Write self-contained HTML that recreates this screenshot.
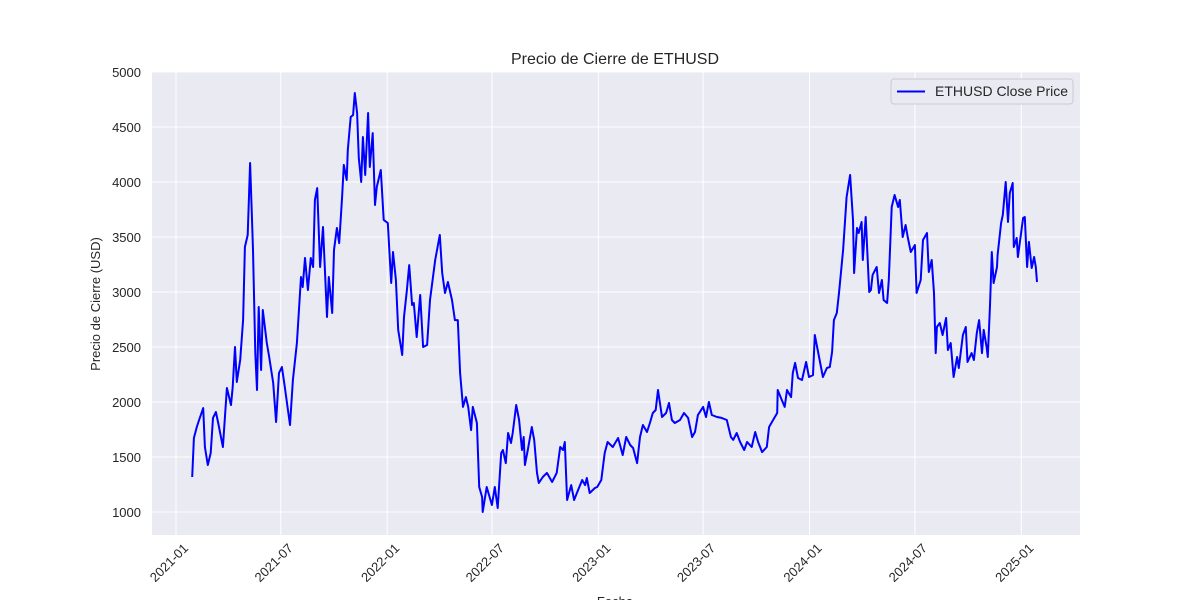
<!DOCTYPE html>
<html><head><meta charset="utf-8"><style>
body{margin:0;background:#fff;}
svg text{font-family:"Liberation Sans",Arial,sans-serif;fill:#262626;}
</style></head><body>
<svg id="chart" width="1200" height="600">
<rect x="152" y="72" width="928" height="463" fill="#eaeaf2"/>
<g id="grid"></g>
<g id="xticks"></g><g id="yticks"></g>
<path id="line" fill="none" stroke="#0000ff" stroke-width="2" stroke-linejoin="round"/>
<text x="615" y="64" text-anchor="middle" font-size="16">Precio de Cierre de ETHUSD</text>
<text transform="translate(100,304) rotate(-90)" text-anchor="middle" font-size="13">Precio de Cierre (USD)</text>
<text x="615" y="606" text-anchor="middle" font-size="13">Fecha</text>
<g>
<rect x="891" y="79" width="182" height="25" rx="3" fill="#eaeaf2" stroke="#cccccc"/>
<line x1="897" y1="91.5" x2="925" y2="91.5" stroke="#0000ff" stroke-width="2"/>
<text x="935" y="96" font-size="14">ETHUSD Close Price</text>
</g>
</svg>
<script>
const days=[28,31,36,40,47,50,55,60,64,69,73,81,88,95,98,102,105,111,116,119,124,128,131,133,137,140,143,147,150,157,161,168,173,178,183,188,197,202,209,216,219,223,228,233,237,240,244,249,254,261,264,270,273,278,282,287,290,295,297,302,306,309,313,316,320,323,327,332,335,340,344,347,354,359,366,372,375,380,384,391,394,399,403,408,411,416,422,427,434,439,448,456,460,465,470,477,482,487,491,496,501,505,510,513,520,524,529,530,537,546,551,556,562,565,570,574,579,582,588,593,598,601,603,608,615,619,624,627,634,641,650,658,664,669,672,676,683,688,695,702,707,710,715,724,728,735,741,746,755,764,772,778,785,790,797,802,807,814,819,824,829,833,840,847,852,857,862,871,878,885,892,897,902,911,916,921,926,935,943,952,959,963,969,975,982,987,995,1001,1006,1013,1021,1025,1032,1039,1040,1047,1052,1056,1063,1066,1070,1075,1082,1089,1094,1101,1104,1109,1118,1125,1130,1134,1137,1142,1146,1153,1156,1159,1165,1170,1172,1177,1180,1185,1187,1192,1198,1201,1204,1211,1215,1220,1223,1229,1232,1237,1242,1248,1251,1256,1261,1265,1270,1277,1280,1287,1291,1298,1301,1306,1310,1313,1315,1320,1325,1331,1334,1339,1344,1350,1353,1360,1365,1368,1375,1379,1384,1388,1393,1396,1401,1403,1407,1410,1413,1419,1420,1426,1429,1434,1438,1441,1446,1448,1453,1455,1464,1467,1471,1474,1479,1483,1486,1488];
const prices=[1318,1673,1773,1836,1945,1591,1427,1536,1855,1909,1809,1591,2127,1973,2136,2500,2182,2382,2745,3409,3518,4173,3718,3382,2445,2109,2864,2291,2836,2536,2409,2173,1818,2264,2318,2136,1791,2200,2536,3136,3045,3309,3018,3309,3227,3836,3945,3227,3591,2773,3136,2809,3382,3582,3445,3864,4155,4018,4291,4591,4609,4809,4627,4218,4000,4409,4064,4627,4136,4445,3791,3955,4109,3655,3627,3082,3364,3109,2655,2427,2773,3018,3245,2882,2900,2591,2973,2500,2518,2927,3291,3518,3173,2991,3091,2927,2745,2745,2264,1955,2045,1955,1745,1955,1809,1227,1136,1000,1227,1064,1227,1036,1536,1564,1445,1718,1627,1718,1973,1836,1564,1682,1427,1564,1773,1655,1355,1264,1318,1355,1273,1355,1591,1564,1636,1109,1245,1109,1200,1291,1245,1309,1173,1218,1227,1291,1536,1636,1591,1673,1518,1682,1609,1582,1445,1682,1791,1727,1809,1900,1927,2109,1864,1900,1991,1836,1809,1836,1900,1855,1682,1727,1882,1955,1864,2000,1882,1864,1855,1836,1682,1655,1718,1636,1564,1636,1591,1727,1636,1545,1591,1773,1836,1900,2109,2018,1955,2109,2045,2264,2355,2218,2200,2364,2227,2245,2609,2473,2227,2309,2318,2455,2745,2809,3000,3382,3627,3864,4064,3655,3173,3582,3536,3636,3291,3682,3000,3018,3155,3227,2991,3109,2927,2900,3109,3773,3882,3773,3836,3500,3609,3491,3364,3427,2991,3109,3473,3536,3182,3291,2991,2445,2682,2718,2609,2764,2473,2536,2227,2409,2309,2609,2682,2364,2445,2382,2627,2745,2445,2655,2500,2409,2900,3364,3082,3227,3336,3627,3700,4000,3636,3900,3991,3409,3491,3318,3673,3682,3227,3455,3218,3318,3227,3091];
const xTickDays=[0,181,365,546,730,911,1095,1277,1461];
const xTickLabels=["2021-01","2021-07","2022-01","2022-07","2023-01","2023-07","2024-01","2024-07","2025-01"];
const yTicks=[1000,1500,2000,2500,3000,3500,4000,4500,5000];

const NS="http://www.w3.org/2000/svg";
const X=d=>176+d*0.5786;
const Y=v=>512-(v-1000)*0.11;
const grid=document.getElementById('grid'),xt=document.getElementById('xticks'),yt=document.getElementById('yticks');
xTickDays.forEach((d,i)=>{
  const l=document.createElementNS(NS,'line');
  l.setAttribute('x1',X(d));l.setAttribute('x2',X(d));l.setAttribute('y1',72);l.setAttribute('y2',535);
  l.setAttribute('stroke','#fff');l.setAttribute('stroke-width','1');
  
  
  grid.appendChild(l);
  const t=document.createElementNS(NS,'text');
  const tx=X(d)+13,ty=549;
  t.setAttribute('x',tx);t.setAttribute('y',ty);t.setAttribute('text-anchor','end');t.setAttribute('font-size','13');
  t.setAttribute('transform','rotate(-45 '+tx+' '+ty+')');
  t.textContent=xTickLabels[i];
  
  
  xt.appendChild(t);
});
yTicks.forEach(v=>{
  const l=document.createElementNS(NS,'line');
  l.setAttribute('x1',152);l.setAttribute('x2',1080);l.setAttribute('y1',Y(v));l.setAttribute('y2',Y(v));
  l.setAttribute('stroke','#fff');l.setAttribute('stroke-width','1');
  
  
  grid.appendChild(l);
  const t=document.createElementNS(NS,'text');
  t.setAttribute('x',141);t.setAttribute('y',Y(v)+5);t.setAttribute('text-anchor','end');t.setAttribute('font-size','13');
  t.textContent=v;
  
  
  yt.appendChild(t);
});
document.getElementById('line').setAttribute('d',days.map((d,i)=>(i?'L':'M')+X(d).toFixed(1)+' '+Y(prices[i]).toFixed(1)).join(' '));
</script>
</body></html>
